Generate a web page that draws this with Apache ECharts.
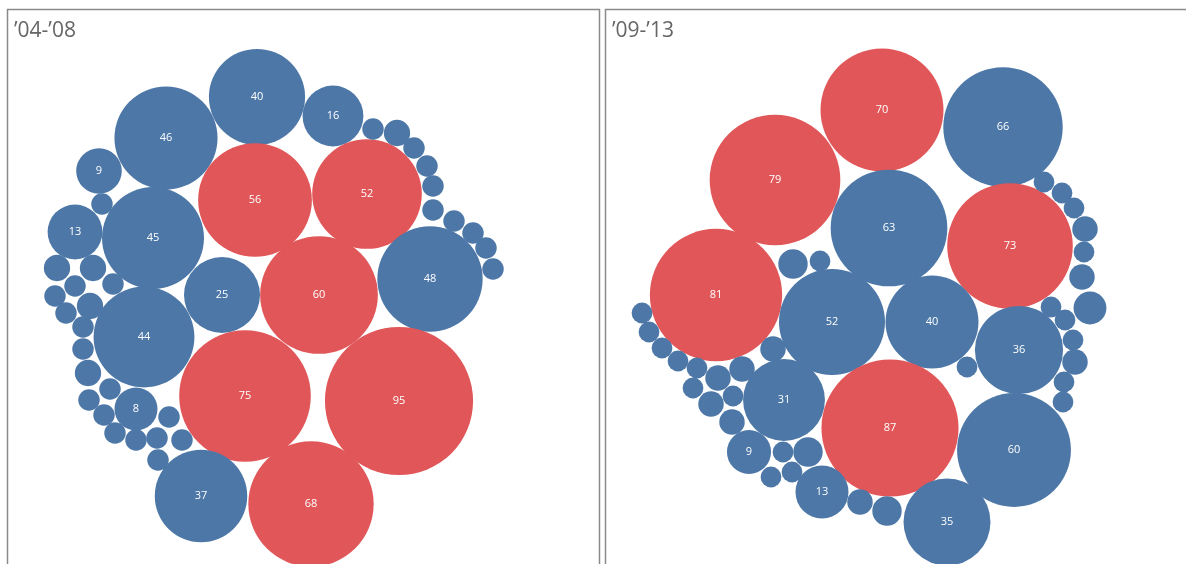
<!DOCTYPE html>
<html>
<head>
<meta charset="utf-8">
<script src="https://cdn.jsdelivr.net/npm/echarts@6/dist/echarts.min.js"></script>
<style>
html,body{margin:0;padding:0;background:#fff;}
#chart{width:1186px;height:564px;}
</style>
</head>
<body>
<div id="chart"></div>
<script>
// Panel titles
const panelTitles = ['\u201904-\u201908', '\u201909-\u201913'];

// Left panel ('04-'08): values, layout positions (panel units), group (B = blue, R = red)
const leftValues = [40, 46, 9, 16, 52, 56, 13, 45, 48, 25, 60, 44, 8, 75, 95, 37, 68,
  2, 3, 3, 2, 2, 2, 3, 2, 2, 2, 3, 2, 2, 2, 2, 2, 2, 2, 2, 2,
  2, 3, 2, 2, 2, 2, 2, 2, 2, 2];
const leftX = [257, 166, 99, 333, 367, 255, 75, 153, 430, 222, 319, 144, 136, 245, 399, 201, 311,
  102, 57, 93, 75, 113, 55, 90, 66, 83, 83, 88, 110, 89, 104, 115, 136, 157, 169, 182, 158,
  373, 397, 414, 427, 433, 433, 454, 473, 486, 493];
const leftY = [97, 138, 171, 116, 194, 200, 232, 238, 279, 295, 295, 337, 409, 396, 401, 496, 504,
  204, 268, 268, 286, 284, 296, 306, 313, 327, 349, 373, 389, 400, 415, 433, 440, 438, 417, 440, 460,
  129, 133, 148, 166, 186, 210, 221, 233, 248, 269];
const leftGroup = ['B','B','B','B','R','R','B','B','B','B','R','B','B','R','R','B','R',
  'B','B','B','B','B','B','B','B','B','B','B','B','B','B','B','B','B','B','B','B',
  'B','B','B','B','B','B','B','B','B','B'];

// Right panel ('09-'13)
const rightValues = [70, 66, 79, 63, 73, 81, 52, 40, 36, 31, 87, 60, 9, 13, 35,
  4, 2, 2, 2, 2, 2, 2, 3, 3, 3, 2, 2, 3, 3, 2, 4, 2, 2, 3, 4,
  2, 2, 2, 3, 2, 3, 5, 2, 2, 2, 3, 2, 2, 2];
const rightX = [882, 1003, 775, 889, 1010, 716, 832, 932, 1019, 784, 890, 1014, 749, 822, 947,
  793, 820, 642, 649, 662, 678, 697, 773, 742, 718, 693, 733, 711, 732, 783, 808, 771, 792, 860, 887,
  1044, 1062, 1074, 1085, 1084, 1082, 1090, 1051, 1065, 1073, 1075, 1064, 1063, 967];
const rightY = [110, 127, 180, 228, 246, 295, 322, 322, 350, 400, 428, 450, 452, 492, 522,
  264, 261, 313, 332, 348, 361, 368, 349, 369, 378, 388, 396, 404, 422, 452, 452, 477, 472, 502, 511,
  182, 193, 208, 229, 252, 277, 308, 307, 320, 340, 362, 382, 402, 367];
const rightGroup = ['R','B','R','B','R','R','B','B','B','B','R','B','B','B','B',
  'B','B','B','B','B','B','B','B','B','B','B','B','B','B','B','B','B','B','B','B',
  'B','B','B','B','B','B','B','B','B','B','B','B','B','B'];

const COLORS = { B: '#4c77a7', R: '#e15759' };

function buildData(vals, xs, ys, groups) {
  return vals.map((v, i) => ({
    value: [xs[i], ys[i], v],
    itemStyle: { color: COLORS[groups[i]], opacity: 1 }
  }));
}

function bubbleSeries(idx, data, k) {
  return {
    type: 'scatter',
    xAxisIndex: idx,
    yAxisIndex: idx,
    data: data,
    symbol: 'circle',
    symbolSize: function (val) { return 2 * k * Math.sqrt(val[2]); },
    itemStyle: { opacity: 1 },
    label: {
      show: true,
      position: 'inside',
      color: '#ffffff',
      fontSize: 11,
      fontFamily: 'Open Sans',
      formatter: function (p) { return p.value[2] >= 6 ? String(p.value[2]) : ''; }
    },
    emphasis: { disabled: true },
    silent: true
  };
}

const chart = echarts.init(document.getElementById('chart'), null, { renderer: 'canvas' });

const hiddenAxis = { show: false, splitLine: { show: false } };
const borderStyle = { stroke: '#8a8a8a', lineWidth: 1.5, fill: null };

chart.setOption({
  animation: false,
  backgroundColor: '#ffffff',
  title: [
    { text: panelTitles[0], left: 9, top: 16,
      textStyle: { fontSize: 21, fontWeight: 'normal', color: '#666', fontFamily: 'Open Sans' } },
    { text: panelTitles[1], left: 607, top: 16,
      textStyle: { fontSize: 21, fontWeight: 'normal', color: '#666', fontFamily: 'Open Sans' } }
  ],
  graphic: [
    { type: 'polyline', shape: { points: [[7.5, 570], [7.5, 9.5], [599.5, 9.5], [599.5, 570]] }, style: borderStyle, silent: true, z: 10 },
    { type: 'polyline', shape: { points: [[605.5, 570], [605.5, 9.5], [1190, 9.5]] }, style: borderStyle, silent: true, z: 10 }
  ],
  grid: [
    { left: 7, top: 9, width: 593, height: 555, show: false },
    { left: 605, top: 9, width: 581, height: 555, show: false }
  ],
  xAxis: [
    Object.assign({ type: 'value', gridIndex: 0, min: 7, max: 600 }, hiddenAxis),
    Object.assign({ type: 'value', gridIndex: 1, min: 605, max: 1186 }, hiddenAxis)
  ],
  yAxis: [
    Object.assign({ type: 'value', gridIndex: 0, min: 9, max: 564, inverse: true }, hiddenAxis),
    Object.assign({ type: 'value', gridIndex: 1, min: 9, max: 564, inverse: true }, hiddenAxis)
  ],
  series: [
    bubbleSeries(0, buildData(leftValues, leftX, leftY, leftGroup), 7.6),
    bubbleSeries(1, buildData(rightValues, rightX, rightY, rightGroup), 7.35)
  ]
});
</script>
</body>
</html>
